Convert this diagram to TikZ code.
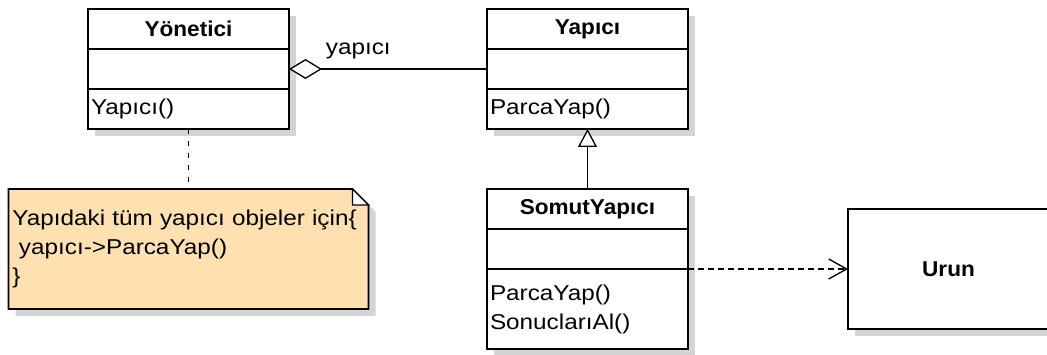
\documentclass[tikz,border=0pt]{standalone}
\usepackage{fontspec}
\setmainfont{Liberation Sans}[FakeStretch=1.13]
\newfontfamily\boldfont{Liberation Sans}[FakeStretch=1.05]
\usepackage{tikz}
\usetikzlibrary{arrows.meta, positioning, shadows, backgrounds}
\usepackage{xcolor}

\definecolor{notefill}{RGB}{255,224,176}
\definecolor{shadowgray}{RGB}{212,212,212}

\begin{document}
\begin{tikzpicture}[
  x=1pt, y=1pt,
  font=\fontsize{21.5}{29}\selectfont,
  cls/.style={draw, line width=1.6pt, fill=white, outer sep=0pt,
    minimum width=201pt, minimum height=40pt, inner sep=3pt,
    drop shadow={shadow xshift=7pt, shadow yshift=-7pt, fill=shadowgray, opacity=1}},
  title/.style={cls, font=\boldfont\bfseries\fontsize{21.5}{29}\selectfont},
  ops/.style={cls, text width=195pt, align=left},
  notebox/.style={minimum width=360pt, minimum height=120pt, outer sep=0pt,
    text width=352pt, inner xsep=4pt, align=left},
  link/.style={line width=1.3pt}]
  \clip (0,0) rectangle (1047,354);
  % Yonetici
  \node[title] (yon) at (188.5,325) {Yönetici};
  \node[cls, below=0pt of yon] (yonattr) {};
  \node[ops, below=0pt of yonattr] (yonops) {Yapıcı()};
  % Yapici
  \node[title, right=198pt of yon] (yap) {Yapıcı};
  \node[cls, below=0pt of yap] (yapattr) {};
  \node[ops, below=0pt of yapattr] (yapops) {ParcaYap()};
  % SomutYapici
  \node[title, below=60pt of yapops] (somut) {SomutYapıcı};
  \node[cls, below=0pt of somut] (somutattr) {};
  \node[ops, below=0pt of somutattr, minimum height=80pt] (somutops) {ParcaYap()\\SonuclarıAl()};
  % Urun
  \node[title, minimum height=120pt, right=160pt of somutattr.south east] (urun) {Urun};
  % note
  \node[notebox, below=60pt of yonops] (note)
    {Yapıdaki tüm yapıcı objeler için\{\\\hspace*{0.3em}yapıcı->ParcaYap()\\\}};
  \begin{scope}[on background layer]
    \fill[white] (0,0) rectangle (1047,354);
    \fill[shadowgray] ([shift={(7pt,-7pt)}]note.south west) -- ([shift={(7pt,-7pt)}]note.north west)
      -- ([shift={(-9pt,-7pt)}]note.north east) -- ([shift={(7pt,-23pt)}]note.north east)
      -- ([shift={(7pt,-7pt)}]note.south east) -- cycle;
    \filldraw[fill=notefill, line width=1.6pt] (note.south west) -- (note.north west)
      -- ([xshift=-16pt]note.north east) -- ([yshift=-16pt]note.north east)
      -- (note.south east) -- cycle;
    \filldraw[fill=white, line width=1.2pt] ([xshift=-16pt]note.north east)
      -- ([xshift=-16pt, yshift=-16pt]note.north east) -- ([yshift=-16pt]note.north east) -- cycle;
  \end{scope}
  % connectors
  \draw[link, -{Diamond[length=33pt, width=20pt, fill=white]}] (yapattr.west)
    -- node[pos=0.65, above=9pt, inner sep=0pt] (role) {yapıcı} (yonattr.east);
  \draw[link, -{Triangle[length=18pt, width=19pt, fill=white]}] (somut.north) -- (yapops.south);
  \draw[link, dash pattern=on 5pt off 7pt] (yonops.south) -- (note.north);
  \draw[link, dash pattern=on 6pt off 4pt, -{Straight Barb[length=18pt, width=20pt]}]
    (somutattr.south east) -- (urun.west);
\end{tikzpicture}
\end{document}
